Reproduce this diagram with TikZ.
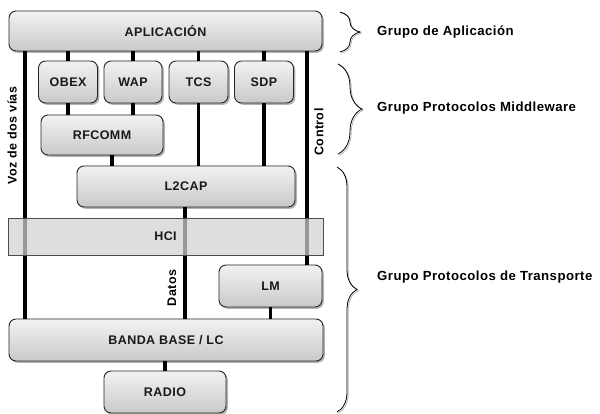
\documentclass[tikz,border=0pt]{standalone}
\usepackage{fontspec}
\setmainfont{Liberation Sans}[LetterSpace=3.5]
\usetikzlibrary{shadows,decorations.pathreplacing}
\begin{document}
\begin{tikzpicture}[x=1pt,y=-1pt,
  box/.style={draw=black!85, line width=0.9pt, rounded corners=7pt,
    top color=gray!10, bottom color=gray!42,
    drop shadow={shadow xshift=1.8pt, shadow yshift=-1.8pt, fill=gray!60, opacity=1},
    font=\fontsize{12.5}{14}\selectfont\bfseries, inner sep=0pt, text=black!90},
  flat/.style={draw=gray!60!black, line width=0.9pt, fill=gray!35, fill opacity=0.72, text opacity=1,
    font=\fontsize{12.5}{14}\selectfont\bfseries, inner sep=0pt, text=black!90},
  link/.style={line width=3.2pt, black},
  lab/.style={font=\fontsize{12.5}{14}\selectfont\bfseries, inner sep=0pt},
  glab/.style={font=\fontsize{13.2}{15}\selectfont\bfseries, inner sep=0pt},
  brc/.style={decorate, decoration={brace, amplitude=#1}, line width=0.8pt},
]
\useasboundingbox[fill=white] (0,0) rectangle (600,414);

% boxes
\node[box, minimum width=313pt, minimum height=40pt] (app) at (165.5,31) {APLICACIÓN};
\node[box, minimum width=59pt, minimum height=42pt] (obex) at (68,82) {OBEX};
\node[box, minimum width=58pt, minimum height=42pt] (wap) at (133,82) {WAP};
\node[box, minimum width=59pt, minimum height=42pt] (tcs) at (198.5,82) {TCS};
\node[box, minimum width=59pt, minimum height=42pt] (sdp) at (264,82) {SDP};
\node[box, minimum width=122pt, minimum height=40pt] (rf) at (102,135) {RFCOMM};
\node[box, minimum width=218pt, minimum height=41pt] (l2) at (186,186.5) {L2CAP};
\node[box, minimum width=103pt, minimum height=42pt] (lm) at (270.5,286) {LM};
\node[box, minimum width=314pt, minimum height=42pt] (bb) at (166,340) {BANDA BASE / LC};
\node[box, minimum width=122pt, minimum height=42pt] (radio) at (165,392) {RADIO};

% helper x positions
\coordinate (xvoz) at (25,0);
\coordinate (xctl) at (307,0);
\coordinate (xrf) at (112,0);
\coordinate (xdat) at (185,0);

% connectors
\draw[link] (app.south -| obex.north) -- (obex.north);
\draw[link] (app.south -| wap.north) -- (wap.north);
\draw[link] (app.south -| tcs.north) -- (tcs.north);
\draw[link] (app.south -| sdp.north) -- (sdp.north);
\draw[link] (obex.south) -- (obex.south |- rf.north);
\draw[link] (wap.south) -- (wap.south |- rf.north);
\draw[link] (rf.south -| xrf) -- (l2.north -| xrf);
\draw[link] (tcs.south) -- (tcs.south |- l2.north);
\draw[link] (sdp.south) -- (sdp.south |- l2.north);
\draw[link] (app.south -| xvoz) -- (bb.north -| xvoz);
\draw[link] (app.south -| xctl) -- (lm.north -| xctl);
\draw[link] (l2.south -| xdat) -- (bb.north -| xdat);
\draw[link] (lm.south) -- (lm.south |- bb.north);
\draw[link] (bb.south -| radio.north) -- (radio.north);

% HCI layer over the lines
\node[flat, minimum width=315pt, minimum height=37pt] (hci) at (165.5,236.5) {HCI};

% rotated labels
\node[lab, rotate=90] (voz) at (12,135.5) {Voz de dos vías};
\node[lab, rotate=90] (ctl) at (319,132) {Control};
\node[lab, rotate=90] (dat) at (172,288) {Datos};

% braces
\begin{scope}[gray!55, shift={(1.2,1.2)}]
  \draw[brc=20pt] (340,12) -- (340,52);
  \draw[brc=24pt] (338,64) -- (338,154);
  \draw[brc=20pt] (337,167) -- (337,412);
\end{scope}
\draw[brc=20pt] (340,12) -- (340,52);
\draw[brc=24pt] (338,64) -- (338,154);
\draw[brc=20pt] (337,167) -- (337,412);

% group labels
\node[glab, anchor=west] (g1) at (377,32) {Grupo de Aplicación};
\node[glab, anchor=west] (g2) at (377,108) {Grupo Protocolos Middleware};
\node[glab, anchor=west] (g3) at (377,277) {Grupo Protocolos de Transporte};
\end{tikzpicture}
\end{document}
